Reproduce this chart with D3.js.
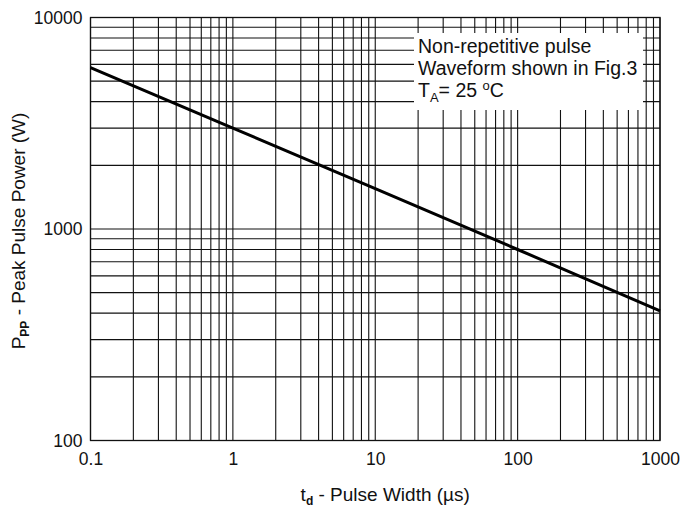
<!DOCTYPE html>
<html>
<head>
<meta charset="utf-8">
<script src="https://cdn.jsdelivr.net/npm/d3@7"></script>
<style>
	body{margin:0;background:#fff;}
	svg text{font-family:"Liberation Sans",Arial,sans-serif;fill:#111;}
</style>
</head>
<body>
<div id="chart"></div>
<script>
// pulse width (us) vs peak pulse power (W)
let pulseWidth = [0.1, 1, 10, 100, 1000];
let peakPower = [5800, 3000, 1550, 800, 410];
let xTicks = [0.1, 1, 10, 100, 1000];
let yTicks = [100, 1000, 10000];
let legendLines = ['Non-repetitive pulse', 'Waveform shown in Fig.3'];

function minorSteps(lo,hi){
	let out = []
	for(let d=lo; d<hi; d*=10){
		for(let k=1;k<10;k++){
			out.push(d*k)
		}
	}
	out.push(hi)
	return out
}

function drawChart(){
	let width = 681, height = 510
	let margin = {left:90.5, right:21, top:17.5, bottom:69.5}

	let svg = d3.select('#chart').append('svg').attr('width',width).attr('height',height)

	let x = d3.scaleLog().domain([0.1,1000]).range([margin.left, width-margin.right])
	let y = d3.scaleLog().domain([100,10000]).range([height-margin.bottom, margin.top])

	let grid = svg.append('g')

	grid.selectAll('.vline').data(minorSteps(0.1,1000)).enter().append('line')
		.attr('x1',d=>x(d)).attr('x2',d=>x(d))
		.attr('y1',y(100)).attr('y2',y(10000))
		.attr('stroke','#111').attr('stroke-width',1.1)

	grid.selectAll('.hline').data(minorSteps(100,10000)).enter().append('line')
		.attr('y1',d=>y(d)).attr('y2',d=>y(d))
		.attr('x1',x(0.1)).attr('x2',x(1000))
		.attr('stroke','#111').attr('stroke-width',1.1)

	// legend box hides the grid behind it
	let box = svg.append('g')
	box.append('rect')
		.attr('x',414).attr('y',33)
		.attr('width',229).attr('height',77)
		.attr('fill','#fff')

	legendLines.forEach(function(t,i){
		box.append('text').attr('x',418).attr('y',53+i*22)
			.attr('font-size',19.5).text(t)
	})
	let ta = box.append('text').attr('x',418).attr('y',97).attr('font-size',19.5)
	ta.append('tspan').text('T')
	ta.append('tspan').attr('font-size',13).attr('dy',5).text('A')
	ta.append('tspan').attr('dy',-5).text('= 25 ')
	ta.append('tspan').attr('font-size',13).attr('dy',-7).text('o')
	ta.append('tspan').attr('dy',7).text('C')

	// frame
	svg.append('rect')
		.attr('x',x(0.1)).attr('y',y(10000))
		.attr('width',x(1000)-x(0.1)).attr('height',y(100)-y(10000))
		.attr('fill','none').attr('stroke','#111').attr('stroke-width',1.3)

	let line = d3.line().x(d=>x(d[0])).y(d=>y(d[1]))
	svg.append('path')
		.datum(pulseWidth.map((d,i)=>[d,peakPower[i]]))
		.attr('d',line)
		.attr('fill','none').attr('stroke','#000').attr('stroke-width',3)

	let xAxis = d3.axisBottom(x).tickValues(xTicks).tickSize(0).tickPadding(12).tickFormat(d3.format('~g'))
	svg.append('g').attr('transform','translate(0,'+y(100)+')').call(xAxis)
		.call(g=>g.select('.domain').remove())
		.selectAll('text').attr('font-size',17.5).attr('fill','#111')

	let yAxis = d3.axisLeft(y).tickValues(yTicks).tickSize(0).tickPadding(8).tickFormat(d3.format('d'))
	svg.append('g').attr('transform','translate('+x(0.1)+',0)').call(yAxis)
		.call(g=>g.select('.domain').remove())
		.selectAll('text').attr('font-size',17.5).attr('fill','#111')

	// axis titles
	let xt = svg.append('text').attr('x',(x(0.1)+x(1000))/2 + 10).attr('y',501)
		.attr('text-anchor','middle').attr('font-size',19)
	xt.append('tspan').text('t')
	xt.append('tspan').attr('font-size',12).attr('font-weight','bold').attr('dy',4).text('d')
	xt.append('tspan').attr('dy',-4).text(' - Pulse Width (\u00b5s)')

	let yt = svg.append('text')
		.attr('transform','translate(25,231) rotate(-90)')
		.attr('text-anchor','middle').attr('font-size',19)
	yt.append('tspan').text('P')
	yt.append('tspan').attr('font-size',12).attr('font-weight','bold').attr('dy',4).text('PP')
	yt.append('tspan').attr('dy',-4).text(' - Peak Pulse Power (W)')
}

drawChart()
</script>
</body>
</html>
